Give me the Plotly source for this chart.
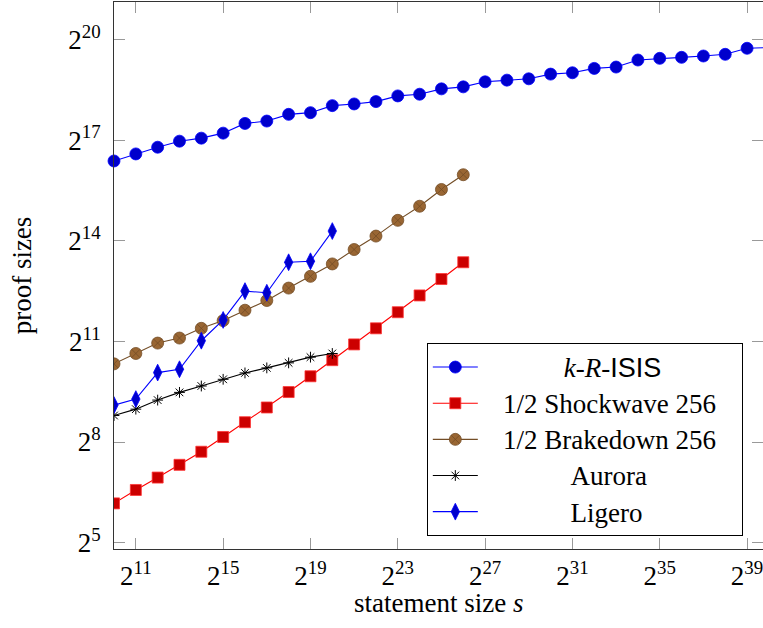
import plotly.graph_objects as go

# ---- data (log2 of the values) ----
krisis_x = list(range(10, 41))
krisis_y = [16.38, 16.59, 16.79, 16.97, 17.06, 17.21, 17.50, 17.57, 17.77, 17.82,
            18.03, 18.08, 18.15, 18.32, 18.37, 18.53, 18.59, 18.74, 18.79, 18.83,
            18.97, 19.01, 19.14, 19.18, 19.39, 19.44, 19.47, 19.51, 19.56, 19.74, 19.76]

shock_x = list(range(10, 27))
shock_y = [6.17, 6.57, 6.94, 7.32, 7.71, 8.15, 8.59, 9.03, 9.49, 9.96,
           10.44, 10.91, 11.39, 11.87, 12.37, 12.86, 13.36]

brake_x = list(range(10, 27))
brake_y = [10.33, 10.64, 10.95, 11.10, 11.39, 11.62, 11.93, 12.22, 12.59, 12.94,
           13.31, 13.74, 14.14, 14.61, 15.03, 15.53, 15.97]

aurora_x = list(range(10, 21))
aurora_y = [8.79, 8.98, 9.25, 9.48, 9.67, 9.87, 10.06, 10.21, 10.36, 10.53, 10.64]

ligero_x = list(range(10, 21))
ligero_y = [9.10, 9.28, 10.07, 10.17, 11.02, 11.64, 12.50, 12.45, 13.36, 13.39, 14.29]

x_tick_exps = [11, 15, 19, 23, 27, 31, 35, 39]
y_tick_exps = [5, 8, 11, 14, 17, 20]

names = ["<i>k</i>-<i>R</i>-<span style='font-family:Liberation Sans'>ISIS</span>",
         "1/2 Shockwave 256", "1/2 Brakedown 256", "Aurora", "Ligero"]
# left/right padding (non-breaking spaces) so the legend texts look centred
pad_left = [12, 3, 3, 13, 13]
pad_right = [0, 3, 3, 0, 0]


def p2(v):
    return [2.0 ** e for e in v]


def label(i):
    return ("<span style='font-size:27px'>" + "\u00a0" * pad_left[i] + names[i]
            + "\u00a0" * pad_right[i] + "</span>")


FONT = "Liberation Serif"
fig = go.Figure()

fig.add_trace(go.Scatter(
    x=p2(krisis_x), y=p2(krisis_y), name=label(0), mode="lines+markers",
    line=dict(color="#0000ff", width=1.1),
    marker=dict(symbol="circle", size=12, color="#0000cc", line=dict(color="#0000ff", width=0.8)),
    cliponaxis=False))
fig.add_trace(go.Scatter(
    x=p2(shock_x), y=p2(shock_y), name=label(1), mode="lines+markers",
    line=dict(color="#ff0000", width=1.1),
    marker=dict(symbol="square", size=11, color="#cc0000", line=dict(color="#ff3333", width=0.8))))
fig.add_trace(go.Scatter(
    x=p2(brake_x), y=p2(brake_y), name=label(2), mode="lines+markers",
    line=dict(color="#734d26", width=1.1),
    marker=dict(symbol="circle-x", size=12, color="#996633", line=dict(color="#734d26", width=0.8))))
fig.add_trace(go.Scatter(
    x=p2(aurora_x), y=p2(aurora_y), name=label(3), mode="lines+markers",
    line=dict(color="#000000", width=1.1),
    marker=dict(symbol="asterisk-open", size=9, color="#000000", line=dict(color="#000000", width=1))))
fig.add_trace(go.Scatter(
    x=p2(ligero_x), y=p2(ligero_y), name=label(4), mode="lines+markers",
    line=dict(color="#0000ff", width=1.1),
    marker=dict(symbol="diamond-tall", size=12, color="#0000cc", line=dict(color="#0000ff", width=0.8))))

LOG2 = 0.30102999566
fig.update_xaxes(
    type="log", range=[10 * LOG2, 39.73 * LOG2],
    tickvals=p2(x_tick_exps), ticktext=[f"2<sup>{e}</sup>" for e in x_tick_exps],
    ticks="inside", ticklen=11, tickcolor="#999999", tickwidth=1,
    showline=True, linecolor="#333333", linewidth=1, mirror="ticks",
    showgrid=False, zeroline=False,
    tickfont=dict(family=FONT, size=27, color="black"),
    ticklabelstandoff=3, ticklabeloverflow="allow")
fig.update_yaxes(
    type="log", range=[4.81 * LOG2, 21.12 * LOG2],
    tickvals=p2(y_tick_exps), ticktext=[f"2<sup>{e}</sup>" for e in y_tick_exps],
    ticks="inside", ticklen=11, tickcolor="#999999", tickwidth=1,
    showline=True, linecolor="#333333", linewidth=1, mirror="ticks",
    showgrid=False, zeroline=False,
    tickfont=dict(family=FONT, size=27, color="black"),
    title=dict(text="proof sizes", font=dict(family=FONT, size=27, color="black"), standoff=28),
    ticklabelstandoff=7)

fig.add_annotation(
    text="statement size <i>s</i>", xref="paper", yref="paper", x=0.5, y=-0.099,
    xanchor="center", yanchor="middle", showarrow=False,
    font=dict(family=FONT, size=27, color="black"))

fig.update_layout(
    width=763, height=628,
    margin=dict(l=114, r=0, t=2, b=79, autoexpand=False),
    plot_bgcolor="white", paper_bgcolor="white",
    font=dict(family=FONT, color="black"),
    hovermode=False,
    legend=dict(x=0.482, y=0.3766, xanchor="left", yanchor="top",
                bgcolor="white", bordercolor="black", borderwidth=1,
                font=dict(family=FONT, size=25.5, color="black"),
                itemwidth=45, tracegroupgap=0),
)

fig.write_html("out.html", config={"displayModeBar": False},
               post_script="document.body.style.margin='0';")
